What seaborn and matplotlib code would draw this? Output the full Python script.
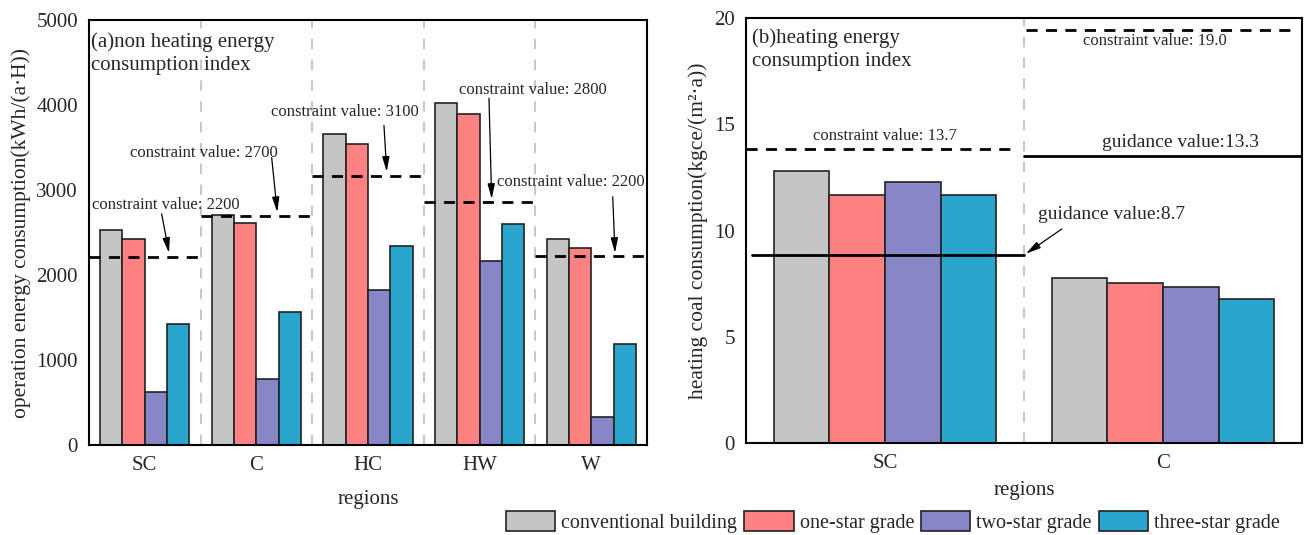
import pandas as pd
import seaborn as sns
import matplotlib as mpl
import matplotlib.pyplot as plt

sns.set_style("white")
mpl.rcParams['font.family'] = ['Liberation Serif', 'DejaVu Serif']
mpl.rcParams['axes.edgecolor'] = 'black'
mpl.rcParams['axes.linewidth'] = 1.5

# --- data ---
grades = ["conventional building", "one-star grade", "two-star grade", "three-star grade"]
colors = ["#C5C5C5", "#FF8282", "#8786C6", "#2AA5CE"]

regions_a = ["SC", "C", "HC", "HW", "W"]
conventional_a = [2525, 2710, 3660, 4025, 2425]
one_star_a = [2420, 2610, 3545, 3900, 2315]
two_star_a = [620, 775, 1820, 2160, 325]
three_star_a = [1425, 1565, 2340, 2605, 1188]
constraint_line_a = [2215, 2693, 3170, 2862, 2222]
constraint_label_a = [2200, 2700, 3100, 2800, 2200]

regions_b = ["SC", "C"]
conventional_b = [12.8, 7.75]
one_star_b = [11.67, 7.55]
two_star_b = [12.27, 7.32]
three_star_b = [11.67, 6.8]
constraint_line_b = [13.85, 19.45]
constraint_label_b = ["13.7", "19.0"]
guidance_line_b = [8.86, 13.52]
guidance_label_b = ["8.7", "13.3"]


def long_df(regions, series):
    rows = []
    for g, vals in zip(grades, series):
        for r, v in zip(regions, vals):
            rows.append({"region": r, "grade": g, "value": v})
    return pd.DataFrame(rows)


df_a = long_df(regions_a, [conventional_a, one_star_a, two_star_a, three_star_a])
df_b = long_df(regions_b, [conventional_b, one_star_b, two_star_b, three_star_b])

fig = plt.figure(figsize=(13.04, 5.35), dpi=100)
ax1 = fig.add_axes([89 / 1304, 90 / 535, 558 / 1304, 425 / 535])
ax2 = fig.add_axes([746 / 1304, 92 / 535, 556 / 1304, 425 / 535])

bar_kw = dict(x="region", y="value", hue="grade", hue_order=grades, palette=colors,
              edgecolor="#222222", linewidth=1.2, width=0.8, saturation=1, errorbar=None)
sns.barplot(data=df_a, ax=ax1, legend=True, **bar_kw)
sns.barplot(data=df_b, ax=ax2, legend=False, **bar_kw)

handles, labels = ax1.get_legend_handles_labels()
ax1.get_legend().remove()

arrow = dict(arrowstyle="-|>,head_length=0.9,head_width=0.22", color="black", lw=0.9,
             shrinkA=0, shrinkB=0)

# ---- panel (a)
ax1.set_xlim(-0.5, 4.5)
ax1.set_ylim(0, 5000)
ax1.set_yticks(range(0, 5001, 1000))
for i in range(1, 5):
    ax1.axvline(i - 0.5, color="#C8C8C8", lw=1.5, ls=(0, (5, 5)), zorder=0)
for i, lvl in enumerate(constraint_line_a):
    ax1.plot([i - 0.5, i + 0.52], [lvl, lvl], color="black", lw=2, ls=(0, (4, 3)),
             zorder=5, clip_on=False)

ann_a = [  # text (x, y, ha), arrow start, arrow tip
    ((-0.47, 2824, "left"), (0.151, 2720), (0.217, 2260)),
    ((0.53, 3435, "center"), (1.137, 3380), (1.187, 2740)),
    ((1.794, 3921, "center"), (2.143, 3760), (2.168, 3215)),
    ((3.478, 4176, "center"), (3.084, 4080), (3.108, 2895)),
    ((3.82, 3098, "center"), (4.193, 2921), (4.213, 2260)),
]
for (txt, start, tip), val in zip(ann_a, constraint_label_a):
    ax1.text(txt[0], txt[1], f"constraint value: {val}", ha=txt[2], va="center",
             fontsize=12, zorder=6)
    ax1.annotate("", xy=tip, xytext=start, arrowprops=arrow, zorder=6)

ax1.text(0.004, 0.97, "(a)non heating energy\nconsumption index", transform=ax1.transAxes,
         ha="left", va="top", fontsize=15, linespacing=1.25)
ax1.set_ylabel("operation energy consumption(kWh/(a·H))", fontsize=15.5, labelpad=4)
ax1.set_xlabel("regions", fontsize=15, labelpad=11)

# ---- panel (b)
ax2.set_xlim(-0.5, 1.5)
ax2.set_ylim(0, 20)
ax2.set_yticks([0, 5, 10, 15, 20])
ax2.axvline(0.5, color="#C8C8C8", lw=1.5, ls=(0, (5, 5)), zorder=0)
ax2.plot([-0.5, 0.48], [constraint_line_b[0]] * 2, color="black", lw=2, ls=(0, (4, 3)), zorder=5)
ax2.plot([0.507, 1.48], [constraint_line_b[1]] * 2, color="black", lw=2, ls=(0, (4, 3)), zorder=5)
ax2.plot([-0.48, 0.5], [guidance_line_b[0]] * 2, color="black", lw=2, zorder=5)
ax2.plot([0.5, 1.5], [guidance_line_b[1]] * 2, color="black", lw=2, zorder=5)

ax2.text(0.0, 14.43, f"constraint value: {constraint_label_b[0]}", ha="center", va="center", fontsize=12)
ax2.text(0.972, 18.93, f"constraint value: {constraint_label_b[1]}", ha="center", va="center", fontsize=12)
ax2.text(0.814, 10.74, f"guidance value:{guidance_label_b[0]}", ha="center", va="center", fontsize=14)
ax2.text(1.063, 14.12, f"guidance value:{guidance_label_b[1]}", ha="center", va="center", fontsize=14)
ax2.annotate("", xy=(0.507, 8.91), xytext=(0.636, 10.07), arrowprops=arrow, zorder=6)

ax2.text(0.011, 0.977, "(b)heating energy\nconsumption index", transform=ax2.transAxes,
         ha="left", va="top", fontsize=15, linespacing=1.35)
ax2.set_ylabel("heating coal consumption(kgce/(m²·a))", fontsize=15.5, labelpad=4)
ax2.set_xlabel("regions", fontsize=15, labelpad=6)

for ax in (ax1, ax2):
    ax.tick_params(axis="y", direction="out", length=5, width=1.2, labelsize=15, pad=3)
    ax.tick_params(axis="x", direction="in", length=0, labelsize=15, pad=8)
    for s in ax.spines.values():
        s.set_visible(True)
        s.set_linewidth(1.5)

fig.legend(handles, labels, loc="center right", bbox_to_anchor=(0.988, 0.025), ncol=4,
           frameon=False, fontsize=14.5, handlelength=2.45, handleheight=1.15,
           handletextpad=0.3, columnspacing=0.35, borderaxespad=0)

fig.savefig("out.png", dpi=100)
